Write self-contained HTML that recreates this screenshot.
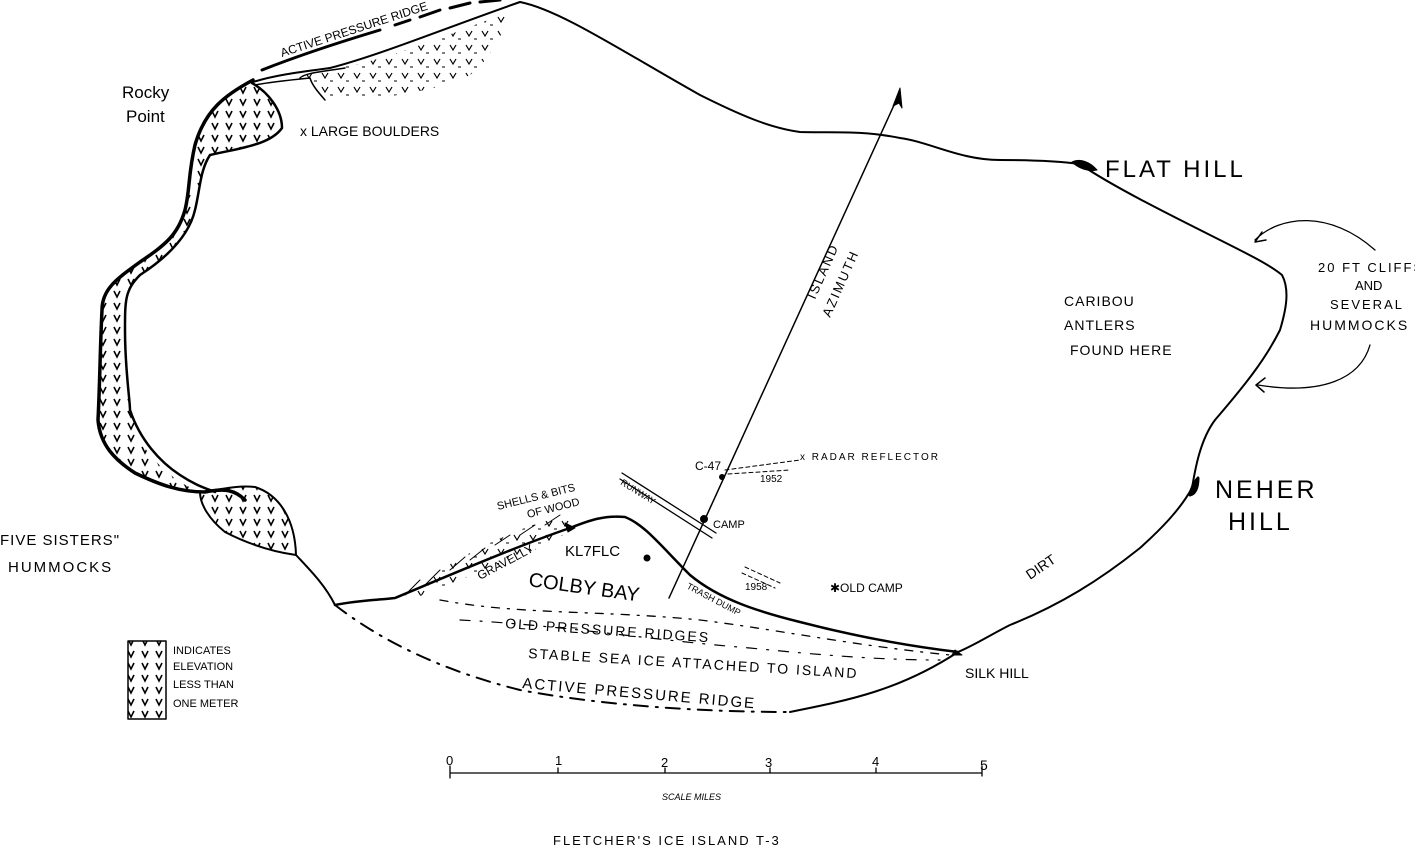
<!DOCTYPE html>
<html><head><meta charset="utf-8"><style>
html,body{margin:0;padding:0;background:#fff;width:1415px;height:847px;overflow:hidden}
svg text{font-family:"Liberation Sans",sans-serif;fill:#000}
</style></head><body>
<svg width="1415" height="847" viewBox="0 0 1415 847" xmlns="http://www.w3.org/2000/svg">
<defs>
<pattern id="v" width="14" height="12" patternUnits="userSpaceOnUse">
<path d="M2 3 L5 9 L8 3" stroke="#000" stroke-width="1.6" fill="none"/>
</pattern>
<pattern id="vd" width="16" height="14" patternUnits="userSpaceOnUse">
<path d="M2 3 L5 8 L8 3" stroke="#000" stroke-width="1.2" fill="none"/><path d="M10 11 h3" stroke="#000" stroke-width="1"/>
</pattern>
</defs>
<g fill="none" stroke="#000" stroke-linecap="round" stroke-linejoin="round">
<path d="M253 82 C275 75 300 72 330 68 C380 55 440 30 520 2" stroke-width="2"/>
<path d="M520 2 C560 10 620 50 700 95 C740 115 770 128 800 132 C830 133 860 130 900 138 C930 142 960 160 1000 160 C1040 160 1065 162 1080 164 C1110 185 1170 215 1210 235 C1250 255 1270 265 1282 275 C1290 290 1286 310 1280 330 C1265 360 1245 385 1215 420 C1200 440 1195 470 1192 488 C1180 510 1160 530 1140 548 C1100 580 1060 605 1010 625 C990 635 975 645 958 652" stroke-width="2"/>
<path d="M1072 162 C1080 158 1090 162 1097 170 C1088 172 1078 168 1072 162Z" fill="#000"/>
<path d="M1190 495 C1192 485 1196 480 1198 478 C1198 488 1195 494 1190 495Z" fill="#000" stroke-width="3"/>
<path d="M253 80 C225 95 205 110 195 145 C188 175 190 190 185 210 C178 235 165 245 140 262 C115 280 102 290 102 310 C100 350 100 380 98 420 C100 445 115 460 135 473 C160 485 180 492 205 492 C225 488 235 490 245 500" stroke-width="3.5"/>
<path d="M252 83 C268 92 282 110 282 128 C270 145 240 148 210 155 C200 170 200 190 195 210 C188 240 160 262 140 275 C125 290 125 300 125 330 C125 370 130 400 130 410 C140 440 160 462 180 475 C195 485 205 488 215 492" stroke-width="2.5"/>
<path d="M253 80 C225 95 205 110 195 145 C188 175 190 190 185 210 C178 235 165 245 140 262 C115 280 102 290 102 310 C100 350 100 380 98 420 C100 445 115 460 135 473 C160 485 180 492 205 492 C190 490 170 478 150 455 C130 430 125 380 125 330 C125 300 125 290 140 275 C160 262 188 240 195 210 C200 190 200 170 210 155 C240 148 270 145 282 128 C282 110 268 92 253 80Z" fill="url(#v)" stroke="none"/>
<path d="M200 492 C220 490 235 485 255 487 C280 495 295 520 296 555 C275 552 250 545 225 532 C210 520 200 505 200 492Z" fill="url(#v)" stroke-width="2"/>
<path d="M296 555 C310 570 325 585 335 605" stroke-width="2"/>
<path d="M300 78 C310 72 330 68 350 66 C400 55 460 30 510 12 C505 30 490 60 470 75 C440 90 400 95 360 100 C335 100 320 95 315 85Z" fill="url(#vd)" stroke="none"/>
<path d="M345 68 C320 72 305 73 300 78 M255 85 C270 82 290 80 310 78 C312 85 318 92 325 100" stroke-width="1.5"/>
<path d="M262 70 C300 55 340 42 380 30 M395 25 L410 20 M420 17 L440 10 M450 8 L470 3 M480 2 L500 0" stroke-width="3"/>
<path d="M335 605 C360 600 380 600 395 598 C450 575 520 545 570 528 C590 520 605 515 625 517 C645 525 660 545 690 575 C720 600 760 612 800 622 C850 635 900 645 958 652" stroke-width="2.5"/>
<path d="M405 595 L420 580 M425 585 L440 570 M450 570 L465 557 M470 560 L485 548 M495 545 L510 535 M520 535 L535 525 M545 525 L560 515" stroke-width="1"/>
<path d="M405 595 C430 575 470 550 520 530 C545 520 565 515 570 520 L560 540 C520 555 460 580 420 596Z" fill="url(#vd)" stroke="none"/>
<path d="M565 523 L575 528 L568 532Z" fill="#000"/>
<path d="M955 650 L962 655 L952 655Z" fill="#000"/>
<path d="M440 600 C520 615 600 610 700 620 C780 630 850 645 950 655" stroke-width="1.3" stroke-dasharray="8 8 2 8"/>
<path d="M460 620 C560 625 650 640 750 648 C820 655 880 660 940 660" stroke-width="1.2" stroke-dasharray="10 10 2 10"/>
<path d="M335 605 C380 640 440 670 520 690 C600 705 700 712 790 712" stroke-width="2" stroke-dasharray="14 8 2 8"/>
<path d="M790 712 C850 700 900 690 958 652" stroke-width="2"/>
<path d="M669 598 L900 92" stroke-width="1.5"/>
<path d="M900 88 L893 106 L899 103 L902 108Z" fill="#000"/>
<circle cx="722" cy="477" r="2.5" fill="#000"/>
<circle cx="704" cy="519" r="3.5" fill="#000"/>
<circle cx="647" cy="558" r="3" fill="#000"/>
<path d="M725 470 L800 460 M728 474 L790 470" stroke-width="1" stroke-dasharray="4 3"/>
<path d="M622 473 L716 533 M620 479 L712 538" stroke-width="1.3"/>
<path d="M745 567 L780 583 M742 573 L775 588" stroke-width="1" stroke-dasharray="4 3"/>
<path d="M1255 240 C1280 215 1330 210 1375 250" stroke-width="1.3"/>
<path d="M1255 242 L1262 232 M1255 242 L1266 240" stroke-width="1.5"/>
<path d="M1370 345 C1360 380 1320 395 1258 385" stroke-width="1.3"/>
<path d="M1256 385 L1265 378 M1256 385 L1264 392" stroke-width="1.5"/>
<rect x="128" y="641" width="38" height="78" fill="url(#v)" stroke-width="1.5"/>
<path d="M450 773 L982 773 M450 766 V778 M558 768 V773 M665 768 V773 M770 768 V773 M876 768 V773 M982 766 V776" stroke-width="1.3"/>
</g>
<g font-size="15">
<text x="122" y="98" font-size="17">Rocky</text>
<text x="126" y="122" font-size="17">Point</text>
<text x="300" y="136" font-size="14">x  LARGE   BOULDERS</text>
<text x="282" y="57" font-size="12" transform="rotate(-18 282 57)">ACTIVE PRESSURE RIDGE</text>
<text x="1105" y="177" font-size="24" letter-spacing="3">FLAT  HILL</text>
<text x="1215" y="498" font-size="25" letter-spacing="3">NEHER</text>
<text x="1228" y="530" font-size="25" letter-spacing="3">HILL</text>
<text x="1064" y="306" font-size="14" letter-spacing="1">CARIBOU</text>
<text x="1064" y="330" font-size="14" letter-spacing="1">ANTLERS</text>
<text x="1070" y="355" font-size="14" letter-spacing="1">FOUND HERE</text>
<text x="1318" y="272" font-size="13" letter-spacing="2">20 FT CLIFFS</text>
<text x="1355" y="290" font-size="13">AND</text>
<text x="1330" y="309" font-size="13" letter-spacing="2">SEVERAL</text>
<text x="1310" y="330" font-size="14" letter-spacing="2">HUMMOCKS</text>
<text x="0" y="545" font-size="15" letter-spacing="1">FIVE SISTERS"</text>
<text x="8" y="572" font-size="15" letter-spacing="2">HUMMOCKS</text>
<text x="173" y="654" font-size="11">INDICATES</text>
<text x="173" y="670" font-size="11">ELEVATION</text>
<text x="173" y="688" font-size="11">LESS THAN</text>
<text x="173" y="707" font-size="11">ONE METER</text>
<text x="815" y="300" font-size="13" letter-spacing="2" transform="rotate(-66 815 300)">ISLAND</text>
<text x="830" y="318" font-size="13" letter-spacing="2" transform="rotate(-66 830 318)">AZIMUTH</text>
<text x="800" y="460" font-size="10" letter-spacing="2">x RADAR REFLECTOR</text>
<text x="760" y="482" font-size="10">1952</text>
<text x="695" y="470" font-size="12">C-47</text>
<text x="713" y="528" font-size="11">CAMP</text>
<text x="620" y="484" font-size="9" transform="rotate(32 620 484)">RUNWAY</text>
<text x="498" y="510" font-size="11" transform="rotate(-14 498 510)">SHELLS &amp; BITS</text>
<text x="528" y="518" font-size="11" transform="rotate(-14 528 518)">OF WOOD</text>
<text x="480" y="580" font-size="12" transform="rotate(-28 480 580)">GRAVELLY</text>
<text x="565" y="556" font-size="15">KL7FLC</text>
<text x="528" y="586" font-size="20" transform="rotate(8 528 586)">COLBY BAY</text>
<text x="686" y="588" font-size="9" transform="rotate(28 686 588)">TRASH DUMP</text>
<text x="745" y="590" font-size="10">1958</text>
<text x="830" y="592" font-size="12">✱OLD CAMP</text>
<text x="1030" y="580" font-size="14" transform="rotate(-34 1030 580)">DIRT</text>
<text x="505" y="628" font-size="14" letter-spacing="2" transform="rotate(4 505 628)">OLD PRESSURE RIDGES</text>
<text x="528" y="658" font-size="14" letter-spacing="2" transform="rotate(3.5 528 658)">STABLE SEA ICE ATTACHED TO ISLAND</text>
<text x="522" y="688" font-size="15" letter-spacing="2" transform="rotate(5 522 688)">ACTIVE PRESSURE RIDGE</text>
<text x="965" y="678" font-size="14">SILK HILL</text>
<text x="446" y="765" font-size="13">0</text>
<text x="555" y="765" font-size="13">1</text>
<text x="661" y="767" font-size="13">2</text>
<text x="765" y="767" font-size="13">3</text>
<text x="872" y="766" font-size="13">4</text>
<text x="980" y="770" font-size="14">5</text>
<text x="662" y="800" font-size="9" font-style="italic">SCALE MILES</text>
<text x="553" y="845" font-size="13" letter-spacing="2">FLETCHER'S ICE ISLAND T-3</text>
</g>
</svg>
</body></html>
